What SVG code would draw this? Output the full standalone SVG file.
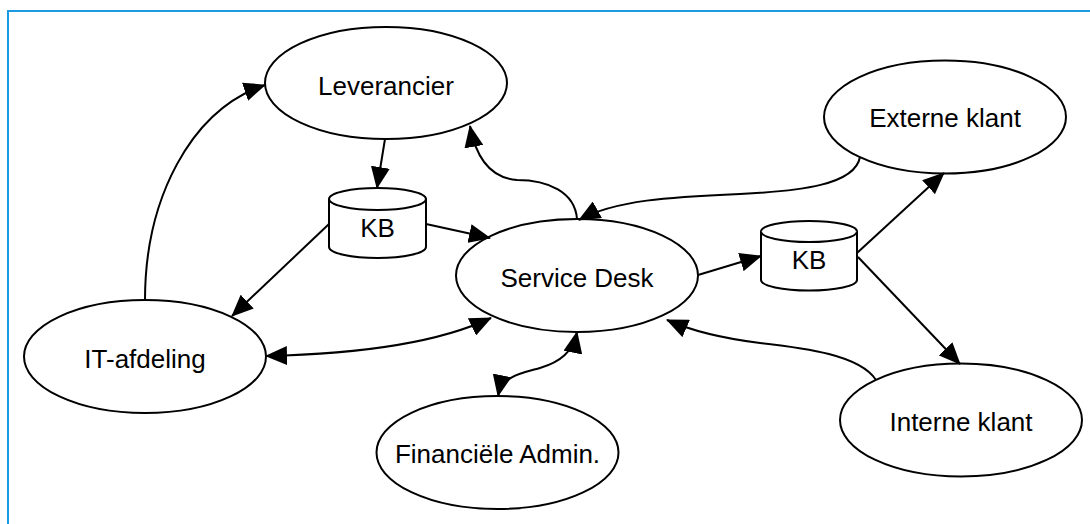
<svg xmlns="http://www.w3.org/2000/svg" width="1090" height="524" viewBox="0 0 1090 524">
  <defs>
    <style>
      .node { fill: #ffffff; stroke: #000000; stroke-width: 2; }
      .label { font-family: "Liberation Sans", Arial, sans-serif; font-size: 26px; fill: #000000; text-anchor: middle; }
      .edge { fill: none; stroke: #000000; stroke-width: 2; }
      .one { marker-end: url(#arrow); }
      .both { marker-start: url(#arrow); marker-end: url(#arrow); }
    </style>
    <marker id="arrow" viewBox="0 0 22 19" refX="21" refY="9.5" markerWidth="22" markerHeight="19" markerUnits="userSpaceOnUse" orient="auto-start-reverse">
      <path d="M0,0 L22,9.5 L0,19 Z" fill="#000000"/>
    </marker>
  </defs>

  <rect width="1090" height="524" fill="#ffffff"/>
  <!-- frame -->
  <path d="M8,524 V11 H1090" fill="none" stroke="#1a9ae2" stroke-width="2"/>

  <g id="leverancier">
    <ellipse class="node" cx="386" cy="83" rx="121" ry="56"/>
    <text class="label" x="386" y="95">Leverancier</text>
  </g>
  <g id="service-desk">
    <ellipse class="node" cx="577" cy="275.5" rx="121" ry="56.5"/>
    <text class="label" x="577" y="286.5">Service Desk</text>
  </g>
  <g id="externe-klant">
    <ellipse class="node" cx="945" cy="117" rx="121" ry="56.5"/>
    <text class="label" x="945" y="127">Externe klant</text>
  </g>
  <g id="it-afdeling">
    <ellipse class="node" cx="145" cy="356.5" rx="121" ry="56.5"/>
    <text class="label" x="145" y="368">IT-afdeling</text>
  </g>
  <g id="financiele-admin">
    <ellipse class="node" cx="497.5" cy="452.5" rx="121" ry="56.5"/>
    <text class="label" x="497.5" y="462.5">Financiële Admin.</text>
  </g>
  <g id="interne-klant">
    <ellipse class="node" cx="961" cy="420" rx="121" ry="56.5"/>
    <text class="label" x="961" y="431">Interne klant</text>
  </g>
  <g id="kb-left">
    <path class="node" d="M329,199 A48.5,11 0 0,1 426,199 V247 A48.5,11 0 0,1 329,247 Z"/>
    <path class="node" fill="none" d="M329,199 A48.5,11 0 0,0 426,199"/>
    <text class="label" x="377.5" y="236.5">KB</text>
  </g>
  <g id="kb-right">
    <path class="node" d="M761,231.5 A48,10.5 0 0,1 857,231.5 V280 A48,10.5 0 0,1 761,280 Z"/>
    <path class="node" fill="none" d="M761,231.5 A48,10.5 0 0,0 857,231.5"/>
    <text class="label" x="809" y="269">KB</text>
  </g>

  <g id="connectors">
    <!-- IT-afdeling to Leverancier -->
    <path class="edge one" d="M145,300 C145,200 190,110 265,85"/>
    <!-- Leverancier to KB -->
    <path class="edge one" d="M385,139 L377,188"/>
    <!-- Service Desk to Leverancier -->
    <path class="edge one" d="M577,219 C575,192 548,180 517,180 C490,178 476,158 470,126"/>
    <!-- KB to Service Desk -->
    <path class="edge one" d="M426,224 L490,238"/>
    <!-- KB to IT-afdeling -->
    <path class="edge one" d="M329,224 L232,316"/>
    <!-- IT-afdeling and Service Desk -->
    <path class="edge both" d="M266,356 C360,354 440,342 491,318"/>
    <!-- Externe klant to Service Desk -->
    <path class="edge one" d="M860,157 C855,185 800,191 740,194 C670,197 615,200 579,220"/>
    <!-- Service Desk to KB -->
    <path class="edge one" d="M698,275 L761,256"/>
    <!-- KB to Externe klant -->
    <path class="edge one" d="M857,253 L944,173"/>
    <!-- KB to Interne klant -->
    <path class="edge one" d="M858,257 L960,364"/>
    <!-- Interne klant to Service Desk -->
    <path class="edge one" d="M876,380 C860,355 805,348 760,343 C720,338 692,331 667,320"/>
    <!-- Financiele Admin. and Service Desk -->
    <path class="edge both" d="M498,396 C502,376 522,373 540,368 C560,362 573,352 577,332"/>
  </g>
</svg>
